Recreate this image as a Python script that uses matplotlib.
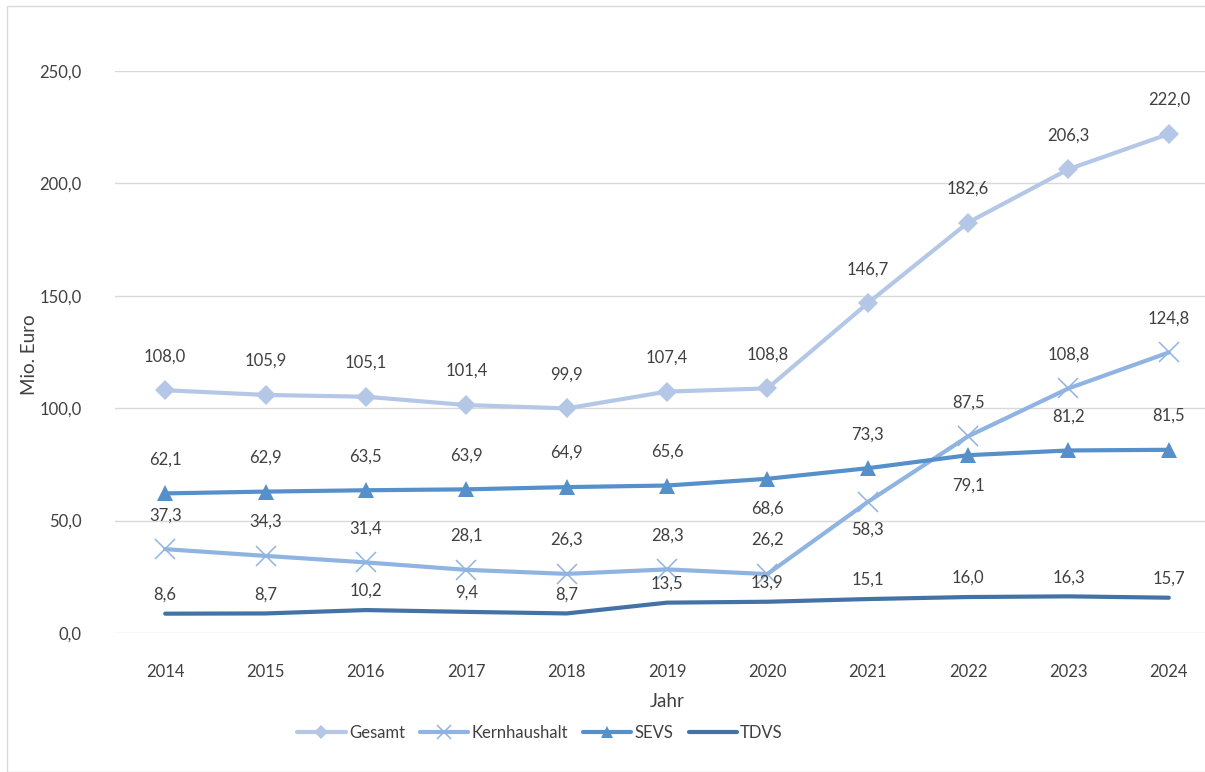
import matplotlib.pyplot as plt
from matplotlib.patches import Rectangle

jahre = ["2014", "2015", "2016", "2017", "2018", "2019", "2020", "2021", "2022", "2023", "2024"]
gesamt = [108.0, 105.9, 105.1, 101.4, 99.9, 107.4, 108.8, 146.7, 182.6, 206.3, 222.0]
kernhaushalt = [37.3, 34.3, 31.4, 28.1, 26.3, 28.3, 26.2, 58.3, 87.5, 108.8, 124.8]
sevs = [62.1, 62.9, 63.5, 63.9, 64.9, 65.6, 68.6, 73.3, 79.1, 81.2, 81.5]
tdvs = [8.6, 8.7, 10.2, 9.4, 8.7, 13.5, 13.9, 15.1, 16.0, 16.3, 15.7]

plt.rcParams["font.family"] = ["Lato", "DejaVu Sans"]
text_col = "#404040"

fig = plt.figure(figsize=(12.05, 7.72), dpi=100)
# plot area in pixels: left 115, right 1219 (half-category padding), y 0 at 633, 250 at 71
W, H = 1205, 772
ax = fig.add_axes([115 / W, (H - 633) / H, (1219 - 115) / W, (633 - 71) / H])

x = list(range(len(jahre)))
series = [
    ("Gesamt", gesamt, "#B4C7E7", "D", 10, 0),
    ("Kernhaushalt", kernhaushalt, "#8FB4E2", "x", 14, 1.1),
    ("SEVS", sevs, "#5590CB", "^", 12, 0),
    ("TDVS", tdvs, "#4472A6", None, 0, 0),
]
for name, vals, col, mk, ms, mew in series:
    ax.plot(x, vals, color=col, lw=3, marker=mk, ms=ms, mew=mew,
            mec=col, mfc=col, label=name, zorder=3, solid_capstyle="round")

def fmt(v):
    return f"{v:.1f}".replace(".", ",")

# data labels; a few sit below their point
below = {("SEVS", 6), ("SEVS", 8), ("Kernhaushalt", 7)}
for name, vals, col, mk, ms, mew in series:
    for i, v in enumerate(vals):
        if (name, i) in below:
            off = -30 if name == "SEVS" else -28
        elif name == "TDVS":
            off = 19
        else:
            off = 34
        ax.annotate(fmt(v), (i, v), xytext=(0, off), textcoords="offset pixels",
                    ha="center", va="center", fontsize=12, color=text_col, zorder=4)

ax.set_xlim(-0.5, 10.5)
ax.set_ylim(0, 250)
ax.set_yticks(range(0, 251, 50))
ax.set_yticklabels([fmt(t) for t in range(0, 251, 50)])
ax.set_xticks(x)
ax.set_xticklabels(jahre)
ax.grid(axis="y", color="#D9D9D9", lw=1)
ax.set_axisbelow(True)
for s in ax.spines.values():
    s.set_visible(False)
ax.tick_params(length=0, labelsize=12, colors=text_col, pad=22)
ax.tick_params(axis="y", pad=24)

ax.set_xlabel("Jahr", fontsize=13.5, color=text_col, labelpad=10)
fig.text(30 / W, 1 - 355 / H, "Mio. Euro", rotation=90, ha="center", va="center",
         fontsize=13.5, color=text_col)

fig.legend(loc="center", bbox_to_anchor=(540 / W, 1 - 733 / H), ncol=4, frameon=False,
           fontsize=12, handlelength=2.9, columnspacing=0.9, handletextpad=0.2,
           markerscale=0.7, labelcolor=text_col)

fig.patches.append(Rectangle((7 / W, 0.0), 1.0, 1 - 6 / H, transform=fig.transFigure,
                             fill=False, ec="#D9D9D9", lw=1))

fig.savefig("out.png", dpi=100)
